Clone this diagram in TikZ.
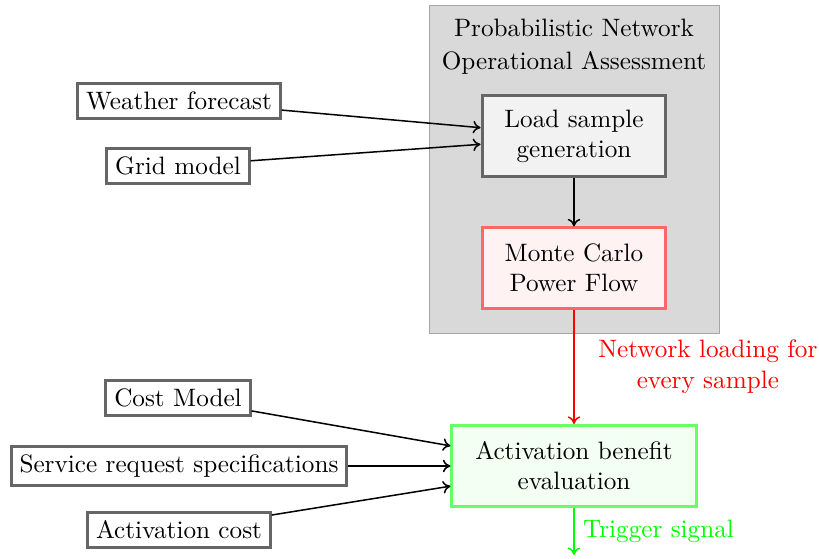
\documentclass[tikz,border=0pt]{standalone}
\usetikzlibrary{arrows.meta}
\begin{document}
\begin{tikzpicture}[x=0.397pt,y=-0.397pt,
  inbox/.style={draw=black!60, line width=1.1pt, fill=white, inner sep=3.33pt},
  procbox/.style={draw=black!60, line width=1.2pt, fill=gray!10, align=center, minimum width=73pt, minimum height=31.8pt, inner sep=2pt},
  mcbox/.style={draw=red!60, line width=1.2pt, fill=red!5, align=center, minimum width=73pt, minimum height=31.8pt, inner sep=2pt},
  evbox/.style={draw=green!60, line width=1.2pt, fill=green!5, align=center, minimum width=96.9pt, minimum height=32.2pt, inner sep=2pt},
  conn/.style={-{To[length=3pt,width=5pt]}, semithick},
]
\useasboundingbox (0,0) rectangle (819,558);
% background group
\node[draw=black!35, fill=gray!30, minimum width=115.5pt, minimum height=130.6pt, inner sep=0pt] (bg) at (574.5,169.5) {};
\node[align=center] (title) at (574,47) {Probabilistic Network\\[1pt]Operational Assessment};

\node[procbox] (load) at (574,136) {Load sample\\generation};
\node[mcbox] (mc) at (574,268) {Monte Carlo\\Power Flow};

\node[inbox] (wf) at (179,101) {Weather forecast};
\node[inbox] (gm) at (178,166) {Grid model};

\node[inbox] (cm) at (178,398) {Cost Model};
\node[inbox] (sr) at (179,466) {Service request specifications};
\node[inbox] (ac) at (179,530) {Activation cost};

\node[evbox] (ev) at (574,466) {Activation benefit\\evaluation};

\coordinate (out) at (574,555);

\draw[conn] (wf) -- ([yshift=3.3pt]load.west);
\draw[conn] (gm) -- ([yshift=-3.3pt]load.west);
\draw[conn] (load) -- (mc);
\draw[conn, red] (mc) -- (ev) node[pos=0.5, right=6pt, align=center, text=red] (lbl) {Network loading for\\every sample};
\draw[conn] (cm) -- ([yshift=8pt]ev.west);
\draw[conn] (sr) -- (ev.west);
\draw[conn] (ac) -- ([yshift=-8pt]ev.west);
\draw[conn, green] (ev) -- (out) node[midway, right=0pt, text=green] (trig) {Trigger signal};
\end{tikzpicture}
\end{document}
